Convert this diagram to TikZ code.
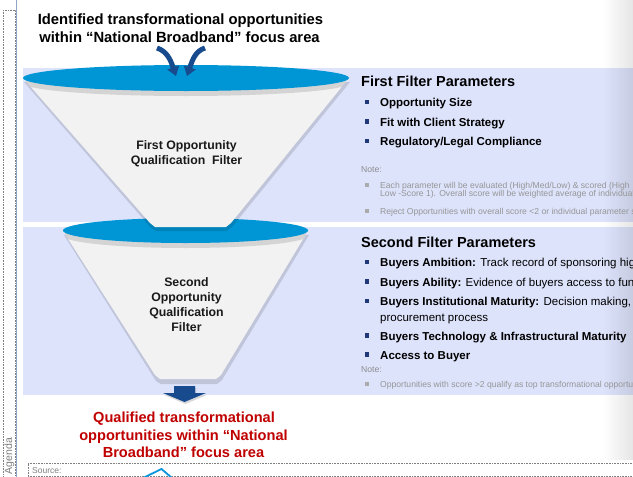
\documentclass[tikz,border=0pt]{standalone}
\usepackage{fontspec}
\setmainfont{Liberation Sans}
\usetikzlibrary{arrows.meta,fadings}
\definecolor{band}{RGB}{221,227,251}
\definecolor{cup}{RGB}{0,150,214}
\definecolor{conefill}{RGB}{242,242,242}
\definecolor{navy}{RGB}{24,74,142}
\definecolor{bul}{RGB}{31,56,120}
\definecolor{notegray}{RGB}{150,150,150}
\definecolor{redtxt}{RGB}{192,0,0}
\definecolor{sideline}{RGB}{142,166,196}
\tikzfading[name=fadeR, left color=transparent!100, right color=transparent!0]
\begin{document}
\begin{tikzpicture}[x=1pt,y=-1pt,
  head/.style={anchor=base west, inner sep=0, font=\bfseries\fontsize{14.5}{17}\selectfont},
  item/.style={anchor=base west, inner sep=0, font=\bfseries\fontsize{11.5}{13}\selectfont},
  itemr/.style={anchor=base west, inner sep=0, font=\fontsize{11.5}{13}\selectfont},
  notetxt/.style={anchor=base west, inner sep=0, text=notegray, font=\fontsize{8.6}{10}\selectfont},
  notehd/.style={anchor=base west, inner sep=0, text=black!45, font=\fontsize{8.6}{10}\selectfont},
  bsq/.style={fill=bul, minimum size=4.5pt, inner sep=0},
  gsq/.style={fill=notegray!80, minimum size=4pt, inner sep=0},
  ttl/.style={anchor=base, inner sep=0, font=\bfseries\fontsize{14.8}{18}\selectfont},
  rtl/.style={anchor=base, inner sep=0, text=redtxt, font=\bfseries\fontsize{14.6}{18}\selectfont},
  flt/.style={anchor=base, inner sep=0, text=black!90, font=\bfseries\fontsize{12.3}{15}\selectfont},
  conestyle/.style={fill=conefill},
  cupstyle/.style={fill=cup},
  shadowstyle/.style={fill=black, opacity=0.13},
  arrowstyle/.style={draw=navy, line width=5pt, -{Triangle[width=12pt,length=9pt]}}
]
\useasboundingbox (0,0) rectangle (633,477);
\fill[white] (0,0) rectangle (633,477);
% bands
\fill[band] (23,68) rectangle (633,222);
\fill[band] (23,227) rectangle (633,395);
% right side shading
\fill[black, opacity=0.10, path fading=fadeR] (603,0) rectangle (633,460);
% left frame
\draw[densely dotted, gray, line width=0.6pt] (3,10) rectangle (15,480);
\draw[sideline, line width=1.6pt] (16.5,0) -- (16.5,477);
\node[rotate=90, inner sep=0, text=gray, font=\fontsize{10.5}{12}\selectfont] (agenda) at (9.5,456) {Agenda};
% source strip
\draw[densely dotted, gray, line width=0.6pt] (28,463.5) -- (633,463.5);
\draw[densely dotted, gray, line width=0.6pt] (28,476.5) -- (633,476.5);
\draw[densely dotted, gray, line width=0.6pt] (28,463.5) -- (28,477);
\node[anchor=base west, inner sep=0, text=gray, font=\fontsize{8.5}{10}\selectfont] (source) at (32,473) {Source:};
\draw[cyan!80!blue, line width=1.8pt] (143,478) -- (161.5,469) -- (172,478);

% second funnel
\fill[shadowstyle] (64,235) -- (156,381) -- (161,384) -- (217,384) -- (222,380) -- (309,235) -- cycle;
\path[conestyle] (63,231) -- (155,375) -- (160,379) -- (216,379) -- (221,375) -- (308,231) -- cycle;
\begin{scope}
  \clip (63,231) -- (155,375) -- (216,379) -- (308,231) -- cycle;
  \fill[black, opacity=0.12] (185.5,235.5) ellipse[x radius=122.5, y radius=12.5];
\end{scope}
\path[cupstyle] (185.5,230.5) ellipse[x radius=122.5, y radius=12.5];

% first funnel
\fill[shadowstyle] (24,82) -- (151,228) -- (156,231) -- (227,231) -- (232,227) -- (350,82) -- cycle;
\path[conestyle] (23,78) -- (150,223) -- (155,227) -- (226,227) -- (231,223) -- (349,78) -- cycle;
\begin{scope}
  \clip (23,78) -- (150,223) -- (231,223) -- (349,78) -- cycle;
  \fill[black, opacity=0.12] (186,83) ellipse[x radius=163, y radius=13];
\end{scope}
\path[cupstyle] (186,78) ellipse[x radius=163, y radius=13];

% funnel labels
\node[flt] (f1a) at (186.5,149.5) {First Opportunity};
\node[flt] (f1b) at (186.5,164.5) {Qualification\ \ Filter};
\node[flt] (f2a) at (186.5,286.5) {Second};
\node[flt] (f2b) at (186.5,301.5) {Opportunity};
\node[flt] (f2c) at (186.5,316.5) {Qualification};
\node[flt] (f2d) at (186.5,331.5) {Filter};

% title
\node[ttl] (t1) at (180.5,24) {Identified transformational opportunities};
\node[ttl] (t2) at (179.5,42.5) {within “National Broadband” focus area};

% top arrows
\coordinate (la) at (157,48);
\coordinate (lt) at (176,76);
\coordinate (ra) at (205,48);
\coordinate (rt) at (187,76);
\draw[arrowstyle] (la) .. controls (166,51) and (170,58) .. (lt);
\draw[arrowstyle] (ra) .. controls (196,51) and (193,58) .. (rt);

% down arrow
\fill[black, opacity=0.15] (175,388) -- (196,388) -- (196,395) -- (207,395) -- (185.5,404) -- (164,395) -- (175,395) -- cycle;
\fill[navy] (174,386) -- (195,386) -- (195,393) -- (206,393) -- (184.5,402) -- (163,393) -- (174,393) -- cycle;

% result text
\node[rtl] (r1) at (184,422) {Qualified transformational};
\node[rtl] (r2) at (183.5,440) {opportunities within “National};
\node[rtl] (r3) at (183.5,457.5) {Broadband” focus area};

% right texts
\begin{scope}
\clip (0,0) rectangle (633,477);
\node[head] (h1) at (361,86) {First Filter Parameters};
\node[bsq] (s1) at (367,102) {};
\node[item] (i1) at (380,106.5) {Opportunity Size};
\node[bsq] (s2) at (367,121.5) {};
\node[item] (i2) at (380,126) {Fit with Client Strategy};
\node[bsq] (s3) at (367,141) {};
\node[item] (i3) at (380,145.5) {Regulatory/Legal Compliance};
\node[notehd] (n1) at (361,172.5) {Note:};
\node[gsq] (g1) at (366.5,184.5) {};
\node[notetxt] (n1a) at (380,188) {Each parameter will be evaluated (High/Med/Low) \& scored (High};
\node[notetxt] (n1b) at (380,196.5) {Low -Score 1). Overall score will be weighted average of individual};
\node[gsq] (g2) at (366.5,210.5) {};
\node[notetxt] (n1c) at (380,214) {Reject Opportunities with overall score <2 or individual parameter score};

\node[head] (h2) at (361,247) {Second Filter Parameters};
\node[bsq] (s4) at (367,262) {};
\node[itemr] (i4) at (380,266.5) {\textbf{Buyers Ambition:} Track record of sponsoring high};
\node[bsq] (s5) at (367,281.5) {};
\node[itemr] (i5) at (380,286) {\textbf{Buyers Ability:} Evidence of buyers access to funding};
\node[bsq] (s6) at (367,301) {};
\node[itemr] (i6) at (380,305.5) {\textbf{Buyers Institutional Maturity:} Decision making,};
\node[itemr] (i6b) at (380,321.5) {procurement process};
\node[bsq] (s7) at (367,335.5) {};
\node[item] (i7) at (380,340) {Buyers Technology \& Infrastructural Maturity};
\node[bsq] (s8) at (367,354.5) {};
\node[item] (i8) at (380,359) {Access to Buyer};
\node[notehd] (n2) at (361,372.5) {Note:};
\node[gsq] (g3) at (366.5,383.5) {};
\node[notetxt] (n2a) at (380,387) {Opportunities with score >2 qualify as top transformational opportunities};
\end{scope}
\end{tikzpicture}
\end{document}
